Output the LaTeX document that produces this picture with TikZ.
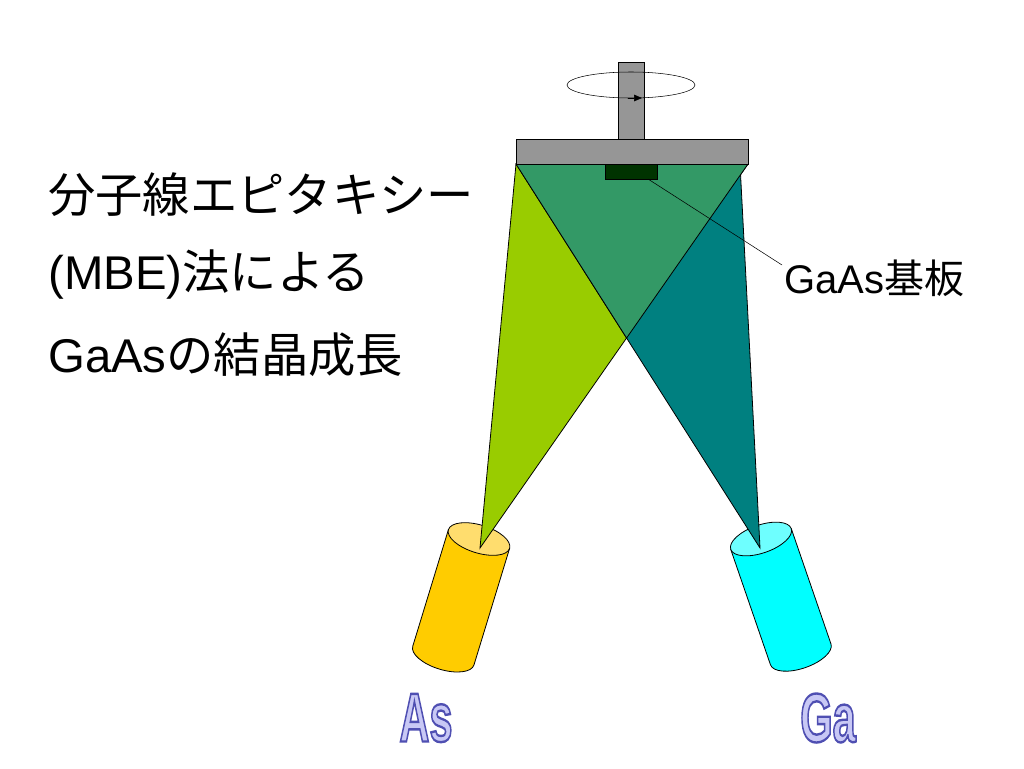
\documentclass[tikz,border=0pt]{standalone}
\usepackage{fontspec}
\setmainfont{Liberation Sans}
\newfontfamily\jp{Noto Sans CJK JP}
\usetikzlibrary{arrows.meta}
\definecolor{lime}{RGB}{153,204,0}
\definecolor{tealb}{RGB}{0,128,128}
\definecolor{midg}{RGB}{51,153,102}
\definecolor{subg}{RGB}{0,51,0}
\definecolor{plate}{RGB}{150,150,150}
\definecolor{asc}{RGB}{255,204,0}
\definecolor{asct}{RGB}{255,221,110}
\definecolor{gac}{RGB}{0,255,255}
\definecolor{gact}{RGB}{110,255,255}
\definecolor{lbl}{RGB}{200,200,245}
\newcommand{\lat}[1]{{\rmfamily #1}}
\newcommand{\outl}[1]{\special{pdf:code q 2 Tr 1.8 w 0.31 0.31 0.7 RG}#1\special{pdf:code Q}}
\tikzset{
 edge/.style={draw=black,line width=0.6pt},
 title/.style={anchor=west,font=\jp\fontsize{35.5}{38}\selectfont,inner sep=0},
 elem/.style={font=\fontsize{52}{52}\selectfont\bfseries,inner sep=0,xscale=0.6,text=lbl}
}
\begin{document}
\begin{tikzpicture}[x=0.75pt,y=-0.75pt]
\useasboundingbox (0,0) rectangle (1024,768);
% As cylinder
\begin{scope}[shift={(479,539)},rotate=-17]
\fill[asc,edge] (-32,0) -- (-32,122) arc[start angle=180,end angle=0,x radius=32,y radius=14] -- (32,0) -- cycle;
\draw[fill=asct,edge] (0,0) ellipse [x radius=32, y radius=14];
\end{scope}
% Ga cylinder
\begin{scope}[shift={(761,539)},rotate=19]
\fill[gac,edge] (-32,0) -- (-32,122) arc[start angle=180,end angle=0,x radius=32,y radius=14] -- (32,0) -- cycle;
\draw[fill=gact,edge] (0,0) ellipse [x radius=32, y radius=14];
\end{scope}
% beams
\fill[lime,edge] (480,548) -- (516,164) -- (748,164) -- cycle;
\fill[tealb,edge] (760,548) -- (516,164) -- (740,164) -- cycle;
\fill[midg,edge] (516,164) -- (748,164) -- (626.6,338) -- cycle;
% shaft and plate
\node[draw,fill=plate,minimum width=26*0.75pt,minimum height=77*0.75pt,inner sep=0,anchor=north west] (shaft) at (618,62) {};
\draw (631,85) ellipse [x radius=64, y radius=13];
\draw[-{Triangle[length=6pt,width=5pt]}] (628,98) -- (642,98);
\draw[fill=plate,edge] (516,139) rectangle (748,164);
\node[draw,fill=subg,minimum width=52*0.75pt,minimum height=15*0.75pt,inner sep=0,anchor=north west] (sub) at (605,164) {};
\coordinate (lead) at (782,265);
\draw (648,179) -- (lead);
\node[anchor=west,font=\fontsize{30}{32}\selectfont,inner sep=1pt] (gaas) at (783,278) {GaAs{\jp 基板}};
% labels
\node[elem] (as) at (426,718) {\outl{As}};
\node[elem] (ga) at (828,718) {\outl{Ga}};
% title
\node[title] (t1) at (48,195) {分子線エピタキシー};
\node[title] (t2) at (48,275) {\lat{(MBE)}法による};
\node[title] (t3) at (48,355) {\lat{GaAs}の結晶成長};
\end{tikzpicture}
\end{document}
